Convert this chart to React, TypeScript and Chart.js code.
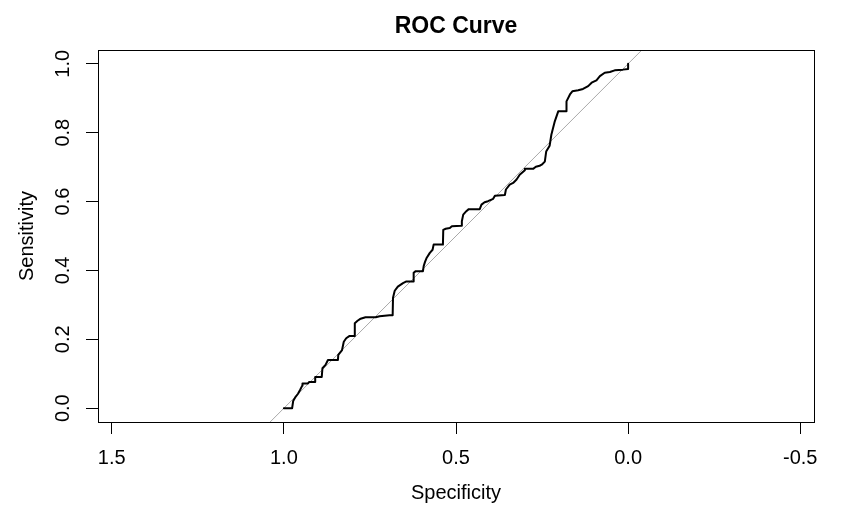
import React, { useEffect, useRef } from "react";
import { Chart, registerables } from "chart.js";
Chart.register(...registerables);

const specificity = [
  1.000, 0.976, 0.973, 0.966, 0.959, 0.953, 0.947, 0.946, 0.930, 0.927,
  0.909, 0.909, 0.890, 0.888, 0.879, 0.872, 0.843, 0.842, 0.831, 0.826,
  0.819, 0.809, 0.794, 0.794, 0.786, 0.777, 0.763, 0.733, 0.722, 0.693,
  0.684, 0.683, 0.678, 0.669, 0.654, 0.644, 0.624, 0.623, 0.617, 0.596,
  0.594, 0.590, 0.585, 0.576, 0.568, 0.565, 0.538, 0.537, 0.530, 0.518,
  0.512, 0.485, 0.483, 0.479, 0.470, 0.463, 0.431, 0.426, 0.417, 0.407,
  0.392, 0.387, 0.358, 0.355, 0.344, 0.334, 0.324, 0.315, 0.300, 0.300,
  0.276, 0.268, 0.257, 0.251, 0.242, 0.238, 0.228, 0.223, 0.213, 0.203,
  0.179, 0.179, 0.169, 0.162, 0.145, 0.131, 0.116, 0.106, 0.092, 0.082,
  0.068, 0.053, 0.039, 0.015, 0.000, 0.000,
];
const sensitivity = [
  0.000, 0.000, 0.021, 0.033, 0.042, 0.053, 0.065, 0.072, 0.072, 0.076,
  0.076, 0.091, 0.091, 0.116, 0.126, 0.140, 0.140, 0.155, 0.169, 0.193,
  0.203, 0.210, 0.210, 0.247, 0.254, 0.260, 0.264, 0.264, 0.267, 0.270,
  0.270, 0.321, 0.341, 0.353, 0.363, 0.368, 0.368, 0.393, 0.398, 0.398,
  0.412, 0.425, 0.437, 0.451, 0.460, 0.475, 0.475, 0.518, 0.521, 0.523,
  0.528, 0.530, 0.543, 0.562, 0.572, 0.578, 0.578, 0.591, 0.598, 0.601,
  0.608, 0.617, 0.619, 0.635, 0.649, 0.654, 0.664, 0.678, 0.691, 0.695,
  0.695, 0.701, 0.704, 0.707, 0.716, 0.745, 0.762, 0.794, 0.833, 0.862,
  0.862, 0.891, 0.911, 0.920, 0.923, 0.927, 0.935, 0.945, 0.952, 0.964,
  0.974, 0.976, 0.981, 0.983, 0.985, 1.000,
];
const diagSpec = [1.04, -0.04];
const diagSens = [-0.04, 1.04];

const xTickValues = [1.5, 1.0, 0.5, 0.0, -0.5];
const xTickLabels = ["1.5", "1.0", "0.5", "0.0", "-0.5"];
const yTickValues = [0.0, 0.2, 0.4, 0.6, 0.8, 1.0];
const yTickLabels = ["0.0", "0.2", "0.4", "0.6", "0.8", "1.0"];

const FONT = "'Liberation Sans', Arial, Helvetica, sans-serif";

function labelFor(values: number[], labels: string[], v: number): string {
  const i = values.findIndex((t) => Math.abs(t - v) < 1e-9);
  return i >= 0 ? labels[i] : "";
}

export default function App() {
  const ref = useRef<HTMLCanvasElement>(null);

  useEffect(() => {
    const canvas = ref.current;
    if (!canvas) return;

    const boxPlugin = {
      id: "plotBox",
      afterDraw(chart: any) {
        const { ctx, chartArea } = chart;
        const l = Math.round(chartArea.left);
        const r = Math.round(chartArea.right);
        const t = Math.round(chartArea.top);
        const b = Math.round(chartArea.bottom);
        ctx.save();
        ctx.strokeStyle = "#000";
        ctx.lineWidth = 1;
        ctx.strokeRect(l + 0.5, t + 0.5, r - l, b - t);
        ctx.restore();
      },
    };

    const chart = new Chart(canvas, {
      type: "scatter",
      data: {
        datasets: [
          {
            label: "ROC",
            data: specificity.map((s, i) => ({ x: s, y: sensitivity[i] })),
            showLine: true,
            borderColor: "#000000",
            backgroundColor: "#000000",
            borderWidth: 2,
            pointRadius: 0,
            tension: 0,
            borderCapStyle: "round",
            borderJoinStyle: "round",
            order: 0,
          },
          {
            label: "identity",
            data: diagSpec.map((s, i) => ({ x: s, y: diagSens[i] })),
            showLine: true,
            borderColor: "#a9a9a9",
            backgroundColor: "#a9a9a9",
            borderWidth: 1,
            pointRadius: 0,
            order: 1,
          },
        ],
      },
      options: {
        animation: false,
        responsive: false,
        maintainAspectRatio: false,
        devicePixelRatio: 1,
        layout: { padding: { left: 0, right: 51, top: 0, bottom: 0 } },
        plugins: {
          legend: { display: false },
          tooltip: { enabled: false },
          title: {
            display: true,
            text: "ROC Curve",
            color: "#000",
            fullSize: false,
            font: { family: FONT, size: 23, weight: "bold", lineHeight: 1.2 },
            padding: { top: 13, bottom: 9.4 },
          },
        },
        scales: {
          x: {
            type: "linear",
            position: "bottom",
            reverse: true,
            min: -0.54,
            max: 1.54,
            afterBuildTicks: (s: any) => {
              s.ticks = xTickValues.map((v) => ({ value: v }));
            },
            afterFit: (s: any) => {
              s.height = 99;
            },
            ticks: {
              autoSkip: false,
              minRotation: 0,
              maxRotation: 0,
              padding: 12,
              color: "#000",
              font: { family: FONT, size: 20, lineHeight: 1.2 },
              callback: (v: any) => labelFor(xTickValues, xTickLabels, Number(v)),
            },
            grid: {
              drawOnChartArea: false,
              drawTicks: true,
              tickLength: 12,
              color: "#000",
              lineWidth: 1,
            },
            border: { display: true, color: "#000", width: 1 },
            title: {
              display: true,
              text: "Specificity",
              color: "#000",
              font: { family: FONT, size: 20, lineHeight: 1.2 },
              padding: { top: 0, bottom: 16 },
            },
          },
          y: {
            type: "linear",
            position: "left",
            min: -0.04,
            max: 1.04,
            afterBuildTicks: (s: any) => {
              s.ticks = yTickValues.map((v) => ({ value: v }));
            },
            afterFit: (s: any) => {
              s.width = 98;
            },
            ticks: {
              autoSkip: false,
              minRotation: 90,
              maxRotation: 90,
              crossAlign: "center",
              padding: 9,
              color: "#000",
              font: { family: FONT, size: 20, lineHeight: 1.2 },
              callback: (v: any) => labelFor(yTickValues, yTickLabels, Number(v)),
            },
            grid: {
              drawOnChartArea: false,
              drawTicks: true,
              tickLength: 12,
              color: "#000",
              lineWidth: 1,
            },
            border: { display: true, color: "#000", width: 1 },
            title: {
              display: true,
              text: "Sensitivity",
              color: "#000",
              font: { family: FONT, size: 20, lineHeight: 1.2 },
              padding: { top: 15, bottom: 0 },
            },
          },
        },
      },
      plugins: [boxPlugin],
    } as any);

    return () => {
      chart.destroy();
    };
  }, []);

  return (
    <div
      style={{
        position: "absolute",
        left: 0,
        top: 0,
        width: 865,
        height: 521,
        background: "#fff",
      }}
    >
      <canvas ref={ref} width={865} height={521} style={{ display: "block" }} />
    </div>
  );
}
